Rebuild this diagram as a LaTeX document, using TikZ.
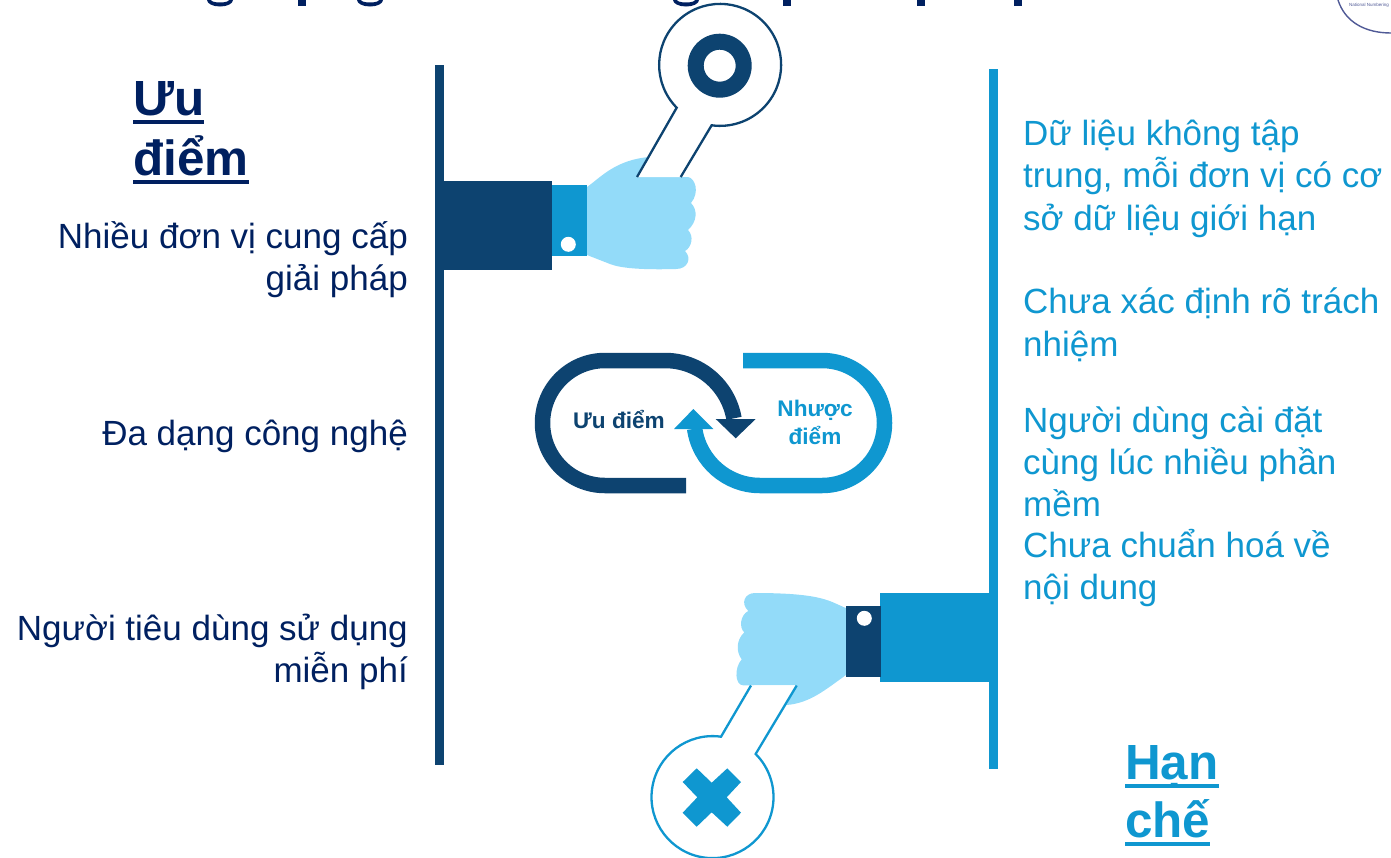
\documentclass[tikz,border=0pt]{standalone}
\usepackage{fontspec}
\setmainfont{Liberation Sans}
\usetikzlibrary{positioning, calc}
\definecolor{navy}{RGB}{0,32,96}
\definecolor{deepblue}{RGB}{13,67,112}
\definecolor{midblue}{RGB}{15,151,208}
\definecolor{skin}{RGB}{147,219,249}
\definecolor{ringline}{RGB}{80,90,150}
\newcommand{\thickul}[1]{\setbox0\hbox{#1}\rlap{\vrule width\wd0 height -5pt depth 8.5pt}\box0}

\begin{document}
\begin{tikzpicture}[
  x=1pt, y=-1pt,
  prolist/.style={font=\fontsize{35}{42.3}\selectfont, text=navy, align=right,
                  anchor=east, inner sep=0pt},
  conlist/.style={font=\fontsize{35}{42.3}\selectfont, text=midblue, align=left,
                  anchor=north west, inner sep=0pt},
  prohead/.style={font=\bfseries\fontsize{49.4}{60}\selectfont, text=navy,
                  align=left, anchor=north west, inner sep=0pt},
  conhead/.style={font=\bfseries\fontsize{49.4}{58}\selectfont, text=midblue,
                  align=left, anchor=north west, inner sep=0pt},
  looplabel/.style={font=\bfseries\fontsize{22.6}{28}\selectfont, align=center,
                    inner sep=0pt},
  wrench/.style={fill=white, line width=2.3pt, line join=miter}]
  \useasboundingbox (0,0) rectangle (1391,857);
  \clip (0,0) rectangle (1391,857);
  % title fragments
  \foreach \gx in {207,357,673}
    \fill[navy] (\gx,0) arc[start angle=180, end angle=0, x radius=13, y radius=6.5]
      -- ++(-4,0) arc[start angle=0, end angle=180, x radius=9, y radius=2.5] -- cycle;
  \foreach \px in {298,783,917,1014}
    \fill[navy] (\px,0) rectangle ++(8,6);
  % logo corner
  \draw[ringline, line width=1.4pt] (1338,0) .. controls (1345,22) and (1365,33) .. (1391,33);
  \node[font=\fontsize{4.5}{5}\selectfont, text=ringline, inner sep=0pt] (logotext) at (1369,5) {National Numbering};
  % bars
  \fill[deepblue] (435,65) rectangle (444,765);
  \fill[midblue] (989,69) rectangle (998,769);
  % upper wrench
  \fill[skin] (587,187) .. controls (600,178) and (615,160) .. (649,157) -- (637,177)
    -- (688,177) .. controls (695,178) and (700,192) .. (691,203)
    .. controls (698,210) and (697,222) .. (688,230)
    .. controls (694,236) and (692,247) .. (685,251)
    .. controls (692,258) and (688,269) .. (676,269)
    .. controls (640,270) and (620,268) .. (610,264) -- (587,255) -- cycle;
  \draw[wrench, draw=deepblue] (637,177) -- (676.7,107.7)
    arc[start angle=135.4, end angle=458, radius=61] -- (680.7,177);
  \fill[deepblue, even odd rule] (719.7,65.7) circle[radius=32] (719.7,65.7) circle[radius=16];
  \fill[deepblue] (444,181) rectangle (552,270);
  \fill[midblue] (552,185) rectangle (587,256);
  \fill[white] (568.3,244.3) circle[radius=7.5];
  % loop
  \draw[deepblue, line width=15.5pt] (686,485.5) -- (605,485.5)
    arc[start angle=90, end angle=270, radius=62.5]
    -- (665,360.5) arc[start angle=270, end angle=350, radius=70];
  \fill[deepblue] (715.7,419) -- (755.7,419) -- (735.7,438.3) -- cycle;
  \draw[midblue, line width=15.5pt] (743,360.5) -- (822,360.5)
    arc[start angle=270, end angle=450, radius=62.5]
    -- (760,485.5) arc[start angle=90, end angle=172, radius=66];
  \fill[midblue] (674,429) -- (713.3,429) -- (693.3,409) -- cycle;
  \node[looplabel, text=deepblue] (leftloop) at (619,419.5) {Ưu điểm};
  \node[looplabel, text=midblue] (rightloop) at (815,422.5) {Nhược\\điểm};
  % lower wrench
  \fill[skin] (846,608) .. controls (830,602) and (825,593) .. (755,593)
    .. controls (745,593) and (740,603) .. (748.3,611)
    .. controls (740,615) and (739,628) .. (744.3,632.3)
    .. controls (736,640) and (736,652) .. (741.7,659.3)
    .. controls (734,668) and (735,685) .. (743,685.3)
    -- (796.7,685) -- (786.7,705) .. controls (810,703) and (825,690) .. (846,675) -- cycle;
  \draw[wrench, draw=midblue] (751,685.5) -- (721,736.7)
    arc[start angle=278, end angle=-45, radius=61] -- (796.7,685.5);
  \fill[midblue] (696.7,768.3) -- (711.7,782.7) -- (727.3,768.3) -- (741,782)
    -- (726.7,797.3) -- (741,812.7) -- (727.3,826.7) -- (711.7,812.3) -- (696.7,826.7)
    -- (682.7,812.7) -- (697.3,797.3) -- (682.7,782) -- cycle;
  \fill[midblue] (880,593) rectangle (989,682);
  \fill[deepblue] (846,606) rectangle (881,677);
  \fill[white] (864.3,618.3) circle[radius=7.5];
  % left text
  \node[prohead] (prohd) at (133,81) {\thickul{Ưu}\\\thickul{điểm}};
  \node[prolist] (pro1) at (408,259.5) {Nhiều đơn vị cung cấp\\giải pháp};
  \node[prolist] (pro2) at (408,436) {Đa dạng công nghệ};
  \node[prolist] (pro3) at (408,652) {Người tiêu dùng sử dụng\\miễn phí};
  % right text
  \node[conlist] (con1) at (1023,120) {Dữ liệu không tập\\trung, mỗi đơn vị có cơ\\sở dữ liệu giới hạn};
  \node[conlist] (con2) at (1023,288) {Chưa xác định rõ trách\\nhiệm};
  \node[conlist] (con3) at (1023,406) {Người dùng cài đặt\\cùng lúc nhiều phần\\mềm};
  \node[conlist] (con4) at (1023,529) {Chưa chuẩn hoá về\\nội dung};
  \node[conhead] (conhd) at (1125,745) {\thickul{Hạn}\\\thickul{chế}};
\end{tikzpicture}
\end{document}
